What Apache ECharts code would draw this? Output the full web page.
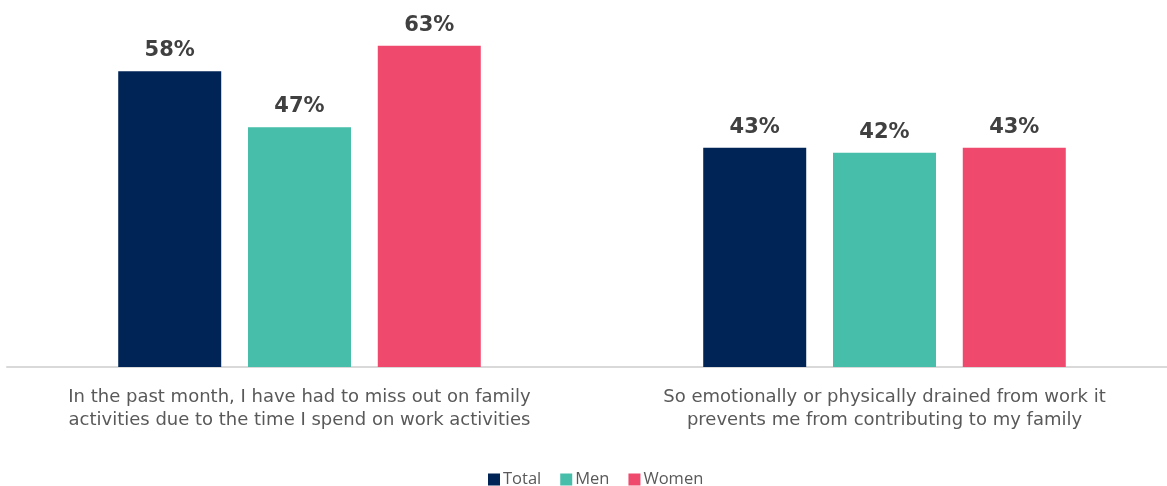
<!DOCTYPE html>
<html>
<head>
<meta charset="utf-8">
<script src="https://cdn.jsdelivr.net/npm/echarts@6/dist/echarts.min.js"></script>
<style>
  html, body { margin: 0; padding: 0; background: #ffffff; }
  #chart { width: 1167px; height: 486px; }
</style>
</head>
<body>
<div id="chart"></div>
<script>
// Survey statements (x-axis categories)
const categories = [
  'In the past month, I have had to miss out on family\nactivities due to the time I spend on work activities',
  'So emotionally or physically drained from work it\nprevents me from contributing to my family'
];

// Share of respondents agreeing, in percent
const totalValues = [58, 43];
const menValues = [47, 42];
const womenValues = [63, 43];

const seriesNames = ['Total', 'Men', 'Women'];
const seriesColors = ['#002455', '#46BEA9', '#EF4A6D'];

const chart = echarts.init(document.getElementById('chart'));

const valueLabel = {
  show: true,
  position: 'top',
  distance: 10,
  formatter: '{c}%',
  fontFamily: 'DejaVu Sans',
  fontWeight: 'bold',
  fontSize: 21,
  color: '#404040'
};

const makeSeries = (name, data, color) => ({
  name: name,
  type: 'bar',
  data: data,
  barWidth: 103,
  barGap: '26%',
  itemStyle: { color: color },
  label: valueLabel,
  emphasis: { disabled: true }
});

chart.setOption({
  animation: false,
  textStyle: { fontFamily: 'DejaVu Sans' },
  // plot area runs a little past the right edge so the two groups sit where they should
  grid: {
    left: 7, width: 1170, top: 10, bottom: 119,
    containLabel: false, outerBoundsMode: 'none'
  },
  legend: {
    data: seriesNames,
    top: 466,
    left: 483,
    icon: 'rect',
    itemWidth: 12,
    itemHeight: 12,
    itemGap: 19,
    textStyle: { fontFamily: 'Open Sans', fontSize: 16.5, color: '#595959', padding: [0, 0, 0, -2] }
  },
  xAxis: {
    type: 'category',
    data: categories,
    axisLine: { show: true, lineStyle: { color: '#d9d9d9', width: 2 } },
    axisTick: { show: false },
    axisLabel: {
      interval: 0,
      margin: 19,
      fontFamily: 'DejaVu Sans',
      fontSize: 18,
      lineHeight: 23,
      color: '#595959',
      align: 'center'
    }
  },
  yAxis: {
    type: 'value',
    min: 0,
    max: 70,
    show: false,
    splitLine: { show: false }
  },
  series: [
    makeSeries(seriesNames[0], totalValues, seriesColors[0]),
    makeSeries(seriesNames[1], menValues, seriesColors[1]),
    makeSeries(seriesNames[2], womenValues, seriesColors[2])
  ]
});
</script>
</body>
</html>
